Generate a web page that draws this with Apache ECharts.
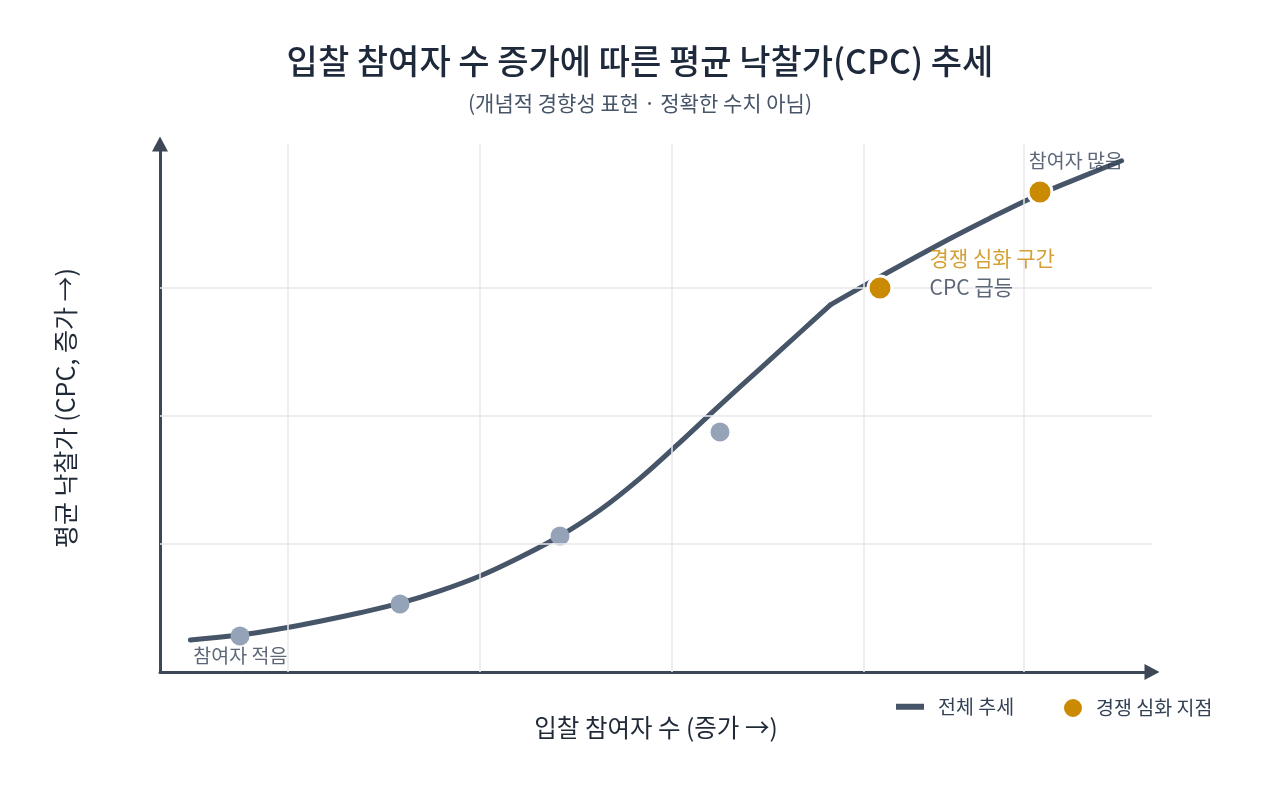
<!DOCTYPE html>
<html>
<head>
<meta charset="utf-8">
<script src="https://cdn.jsdelivr.net/npm/echarts@6/dist/echarts.min.js"></script>
<style>
html, body { margin:0; padding:0; background:#fff; }
#chart { width:1280px; height:800px; }
</style>
</head>
<body>
<div id="chart"></div>
<script>
// conceptual units, not real figures
// trend drawn in two pieces: there is a visible bend where competition kicks in
var trendX1 = [1.9, 5, 7.5, 10, 12.5, 15, 17.5, 20, 22.5, 25, 27.5, 30, 32.5, 35, 37.5, 40, 41.9];
var trendY1 = [2.0, 2.31, 2.7, 3.17, 3.7, 4.3, 5.07, 6.0, 7.17, 8.5, 10.12, 12.1, 14.35, 16.68, 18.95, 21.22, 22.95];
var trendX2 = [41.9, 44.9, 49.3, 51.84, 54.4, 56.25, 60.1];
var trendY2 = [22.95, 24.65, 27.05, 28.35, 29.6, 30.4, 31.95];

var sampleX = [5, 15, 25, 35];
var sampleY = [2.25, 4.25, 8.5, 15.0];

var hotX = [45, 55];
var hotY = [24.0, 30.0];

var gridXs = [8, 20, 32, 44, 54];
var gridYs = [8, 16, 24];

var noteText = ['참여자 적음', '참여자 많음', '경쟁 심화 구간', 'CPC 급등'];
var noteX = [2.08, 54.3, 48.1, 48.1];
var noteY = [1.0, 31.96, 25.9, 24.04];
var noteColor = ['#334155', '#334155', '#ca8a04', '#334155'];
var noteSize = [19.5, 19.5, 21, 21];

var FONT = 'Noto Sans CJK KR';
var LINE_COLOR = '#475569';

var myChart = echarts.init(document.getElementById('chart'));

function pairs(xs, ys) {
	return xs.map(function (x, i) { return [x, ys[i]]; });
}

var gridLines = [];
gridXs.forEach(function (v) { gridLines.push({xAxis: v}); });
gridYs.forEach(function (v) { gridLines.push({yAxis: v}); });

var axisLineStyle = {
	show: true,
	symbol: ['none', 'triangle'],
	symbolSize: [16, 15],
	symbolOffset: [0, 0],
	lineStyle: { color: '#3d4758', width: 3 }
};

var option = {
	backgroundColor: '#fff',
	textStyle: { fontFamily: FONT },
	title: {
		text: '입찰 참여자 수 증가에 따른 평균 낙찰가(CPC) 추세',
		subtext: '(개념적 경향성 표현 · 정확한 수치 아님)',
		left: 'center',
		top: 39,
		itemGap: 15,
		textStyle: {
			fontFamily: FONT,
			fontSize: 34,
			fontWeight: 500,
			color: '#1e293b'
		},
		subtextStyle: {
			fontFamily: FONT,
			fontSize: 21,
			color: '#475569'
		}
	},
	grid: {
		left: 160,
		right: 128,
		top: 144,
		bottom: 128,
		containLabel: false
	},
	legend: [{
		left: 891,
		top: 692,
		icon: 'rect',
		itemWidth: 28,
		itemHeight: 6,
		data: ['전체 추세'],
		textStyle: { fontFamily: FONT, fontSize: 19.5, color: '#334155', padding: [0, 0, 0, 9] }
	}, {
		left: 1057,
		top: 692,
		icon: 'circle',
		itemWidth: 20,
		itemHeight: 20,
		data: ['경쟁 심화 지점'],
		textStyle: { fontFamily: FONT, fontSize: 19.5, color: '#334155', padding: [0, 0, 0, 8] }
	}],
	xAxis: {
		type: 'value',
		min: 0,
		max: 62,
		name: '입찰 참여자 수 (증가 →)',
		nameLocation: 'middle',
		nameGap: 43,
		nameTextStyle: { fontFamily: FONT, fontSize: 24.5, color: '#1f2937' },
		axisLine: axisLineStyle,
		axisTick: { show: false },
		axisLabel: { show: false },
		splitLine: { show: false }
	},
	yAxis: {
		type: 'value',
		min: 0,
		max: 33,
		name: '평균 낙찰가 (CPC, 증가 →)',
		nameLocation: 'middle',
		nameGap: 82,
		nameTextStyle: { fontFamily: FONT, fontSize: 25, color: '#1f2937' },
		axisLine: axisLineStyle,
		axisTick: { show: false },
		axisLabel: { show: false },
		splitLine: { show: false }
	},
	series: [
	{
		name: 'grid',
		type: 'line',
		data: [],
		z: 1,
		silent: true,
		markLine: {
			silent: true,
			symbol: ['none', 'none'],
			label: { show: false },
			lineStyle: { color: '#e8e8ec', width: 1.5, type: 'solid' },
			data: gridLines
		}
	},
	{
		name: '전체 추세',
		type: 'line',
		z: 3,
		smooth: 0.35,
		symbol: 'none',
		color: LINE_COLOR,
		lineStyle: { color: LINE_COLOR, width: 5, cap: 'round', join: 'round' },
		data: pairs(trendX1, trendY1)
	},
	{
		name: '전체 추세',
		type: 'line',
		z: 3,
		smooth: 0.35,
		symbol: 'none',
		color: LINE_COLOR,
		lineStyle: { color: LINE_COLOR, width: 5, cap: 'round', join: 'round' },
		data: pairs(trendX2, trendY2)
	},
	{
		name: 'samples',
		type: 'scatter',
		z: 4,
		symbolSize: 19,
		itemStyle: { color: '#94a3b8', opacity: 1 },
		data: pairs(sampleX, sampleY)
	},
	{
		name: '경쟁 심화 지점',
		type: 'scatter',
		z: 5,
		symbolSize: 24,
		color: '#ca8a04',
		itemStyle: { color: '#ca8a04', borderColor: '#fff', borderWidth: 3, opacity: 1 },
		data: pairs(hotX, hotY)
	},
	{
		name: 'notes',
		type: 'scatter',
		z: 6,
		symbolSize: 0,
		silent: true,
		data: noteText.map(function (t, i) {
			return {
				name: t,
				value: [noteX[i], noteY[i]],
				label: {
					show: true,
					position: 'right',
					distance: 0,
					formatter: '{b}',
					fontFamily: FONT,
					fontSize: noteSize[i],
					color: noteColor[i]
				}
			};
		})
	}
	]
};
myChart.setOption(option);
window.onresize = function () {
	myChart.resize();
};
</script>
</body>
</html>
